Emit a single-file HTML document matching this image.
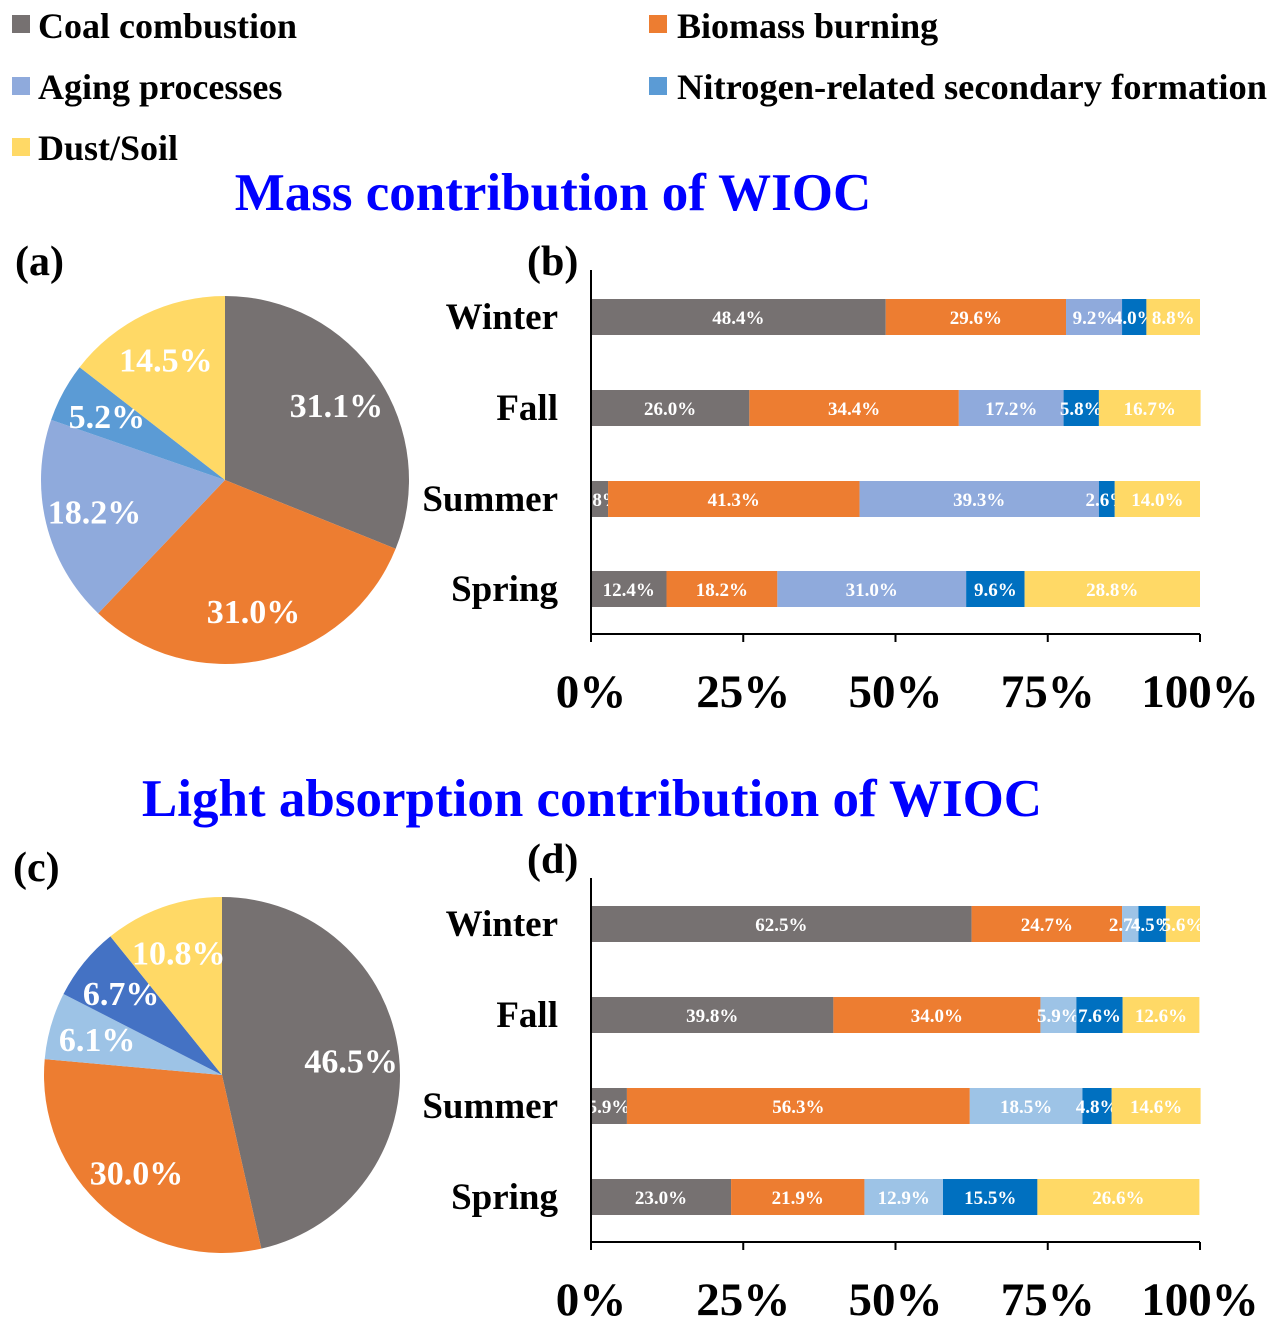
<!DOCTYPE html>
<html><head><meta charset="utf-8"><style>
body{margin:0;background:#fff}
svg{display:block;font-family:"Liberation Serif",serif;font-weight:bold}
</style></head><body>
<svg id="fig" width="1279" height="1325" viewBox="0 0 1279 1325" xmlns="http://www.w3.org/2000/svg">
<g font-size="36">
 <g><rect x="12" y="15" width="18" height="18" fill="#767171"/><text x="38" y="38">Coal combustion</text></g>
 <g><rect x="649" y="15" width="18" height="18" fill="#ED7D31"/><text x="677" y="38">Biomass burning</text></g>
 <g><rect x="12" y="77" width="18" height="18" fill="#8FAADC"/><text x="38" y="99">Aging processes</text></g>
 <g><rect x="649" y="77" width="18" height="18" fill="#5B9BD5"/><text x="677" y="99" textLength="590" lengthAdjust="spacingAndGlyphs">Nitrogen-related secondary formation</text></g>
 <g><rect x="12" y="138" width="18" height="18" fill="#FFD966"/><text x="38" y="160">Dust/Soil</text></g>
</g>
<text x="553" y="210" font-size="53" fill="#0000FF" text-anchor="middle">Mass contribution of WIOC</text>
<text x="592" y="816" font-size="53" fill="#0000FF" text-anchor="middle">Light absorption contribution of WIOC</text>
<text x="15" y="275" font-size="42">(a)</text>
<text x="527" y="275" font-size="42">(b)</text>
<text x="13" y="881" font-size="42">(c)</text>
<text x="527" y="873" font-size="42">(d)</text>
</svg>
<script>
const seasons=["Winter","Fall","Summer","Spring"];
const pieA=[31.1,31.0,18.2,5.2,14.5];
const pieC=[46.5,30.0,6.1,6.7,10.8];
const barsB=[[48.4,29.6,9.2,4.0,8.8],[26.0,34.4,17.2,5.8,16.7],[2.8,41.3,39.3,2.6,14.0],[12.4,18.2,31.0,9.6,28.8]];
const barsD=[[62.5,24.7,2.7,4.5,5.6],[39.8,34.0,5.9,7.6,12.6],[5.9,56.3,18.5,4.8,14.6],[23.0,21.9,12.9,15.5,26.6]];
const ticks=["0%","25%","50%","75%","100%"];
const tickVals=[0,25,50,75,100];
const colAB=["#767171","#ED7D31","#8FAADC","#5B9BD5","#FFD966"];
const colBarB=["#767171","#ED7D31","#8FAADC","#0070C0","#FFD966"];
const colC=["#767171","#ED7D31","#9DC3E6","#4472C4","#FFD966"];
const colBarD=["#767171","#ED7D31","#9DC3E6","#0070C0","#FFD966"];
const NS="http://www.w3.org/2000/svg";
const svg=document.getElementById("fig");
function mk(t,a,p){const e=document.createElementNS(NS,t);for(const k in a)e.setAttribute(k,a[k]);(p||svg).appendChild(e);return e;}
function pie(vals,cols,cx,cy,r,name,fs){
 const g=mk("g",{});
 
 
 const tot=vals.reduce((a,b)=>a+b,0);let a0=0;
 vals.forEach((v,i)=>{
  const a1=a0+v/tot*2*Math.PI;
  const x0=cx+r*Math.sin(a0),y0=cy-r*Math.cos(a0),x1=cx+r*Math.sin(a1),y1=cy-r*Math.cos(a1);
  const p=mk("path",{d:`M${cx},${cy}L${x0},${y0}A${r},${r} 0 ${a1-a0>Math.PI?1:0} 1 ${x1},${y1}Z`,fill:cols[i]},g);
  
  
  const am=(a0+a1)/2,lr=r*0.73;
  const t=mk("text",{x:cx+lr*Math.sin(am),y:cy-lr*Math.cos(am)+fs*0.35,"text-anchor":"middle","font-size":fs,fill:"#fff"},g);
  t.textContent=v.toFixed(1)+"%";
  
  
  a0=a1;
 });
}
pie(pieA,colAB,225,480,184,"pie-mass",34);
pie(pieC,colC,222,1075,178,"pie-light",34);
function bars(data,cols,x0,w,ys,axisTop,axisY,name){
 const g=mk("g",{});
 
 
 const sx=v=>x0+v/100*w;
 data.forEach((row,ri)=>{
  const y=ys[ri];let acc=0;
  const lab=mk("text",{x:558,y:y+30,"text-anchor":"end","font-size":37},g);
  lab.textContent=seasons[ri];
  
  
  row.forEach((v,i)=>{
   const r=mk("rect",{x:sx(acc),y:y,width:sx(acc+v)-sx(acc),height:36,fill:cols[i]},g);
   
   
   const t=mk("text",{x:(sx(acc)+sx(acc+v))/2,y:y+25,"text-anchor":"middle","font-size":19,fill:"#fff"},g);
   t.textContent=v.toFixed(1)+"%";
   
   
   acc+=v;
  });
 });
 const ya=mk("line",{x1:x0,y1:axisTop,x2:x0,y2:axisY,stroke:"#000","stroke-width":2},g);
 
 
 const xa=mk("line",{x1:x0,y1:axisY,x2:x0+w,y2:axisY,stroke:"#000","stroke-width":2},g);
 
 
 tickVals.forEach((tv,i)=>{
  const tk=mk("line",{x1:sx(tv),y1:axisY,x2:sx(tv),y2:axisY+8,stroke:"#000","stroke-width":2},g);
  
  
  const tl=mk("text",{x:sx(tv),y:axisY+73,"text-anchor":"middle","font-size":47},g);
  tl.textContent=ticks[i];
  
  
 });
}
bars(barsB,colBarB,591,609,[299,390,481,571],270,634,"bar-chart-mass");
bars(barsD,colBarD,591,609,[906,997,1088,1179],878,1242,"bar-chart-light");
</script>
</body></html>
